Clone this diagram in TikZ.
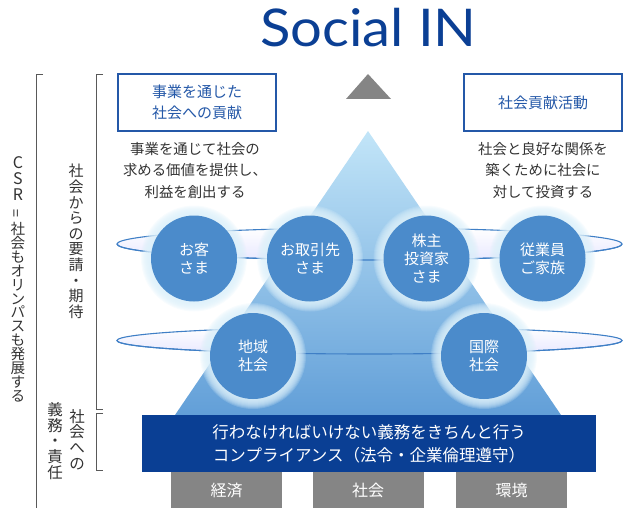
\documentclass[tikz,border=0pt]{standalone}
\usepackage{graphicx}
\usepackage{fontspec}
\setmainfont{Noto Sans CJK JP}
\newfontfamily\titlefont{Lato}
\definecolor{titleblue}{HTML}{0B3F94}
\definecolor{boxblue}{HTML}{2458A8}
\definecolor{navy}{HTML}{0A3F94}
\definecolor{ballblue}{HTML}{4B8BCB}
\definecolor{ringline}{HTML}{3F7FC6}
\definecolor{glowc}{HTML}{DCF0FA}
\definecolor{grayblock}{HTML}{858585}
\definecolor{txt}{HTML}{333333}
\definecolor{pyrtop}{HTML}{C2E5F8}
\definecolor{pyrbot}{HTML}{629FD8}
\tikzset{
  ball/.style={circle, fill=ballblue, minimum size=86pt, inner sep=0pt, text=white, align=center, font=\fontsize{15}{18}\selectfont},
  headbox/.style={draw=boxblue, line width=1.3pt, fill=white, minimum width=158pt, minimum height=57pt, inner sep=0pt, text=boxblue, align=center, font=\fontsize{15}{21}\selectfont},
  desc/.style={text=txt, align=center, font=\fontsize{14.4}{21.5}\selectfont},
  vtext/.style={text=txt, align=center, inner sep=0pt, anchor=north},
  bracket/.style={draw=black!65, line width=0.8pt},
  ring/.style={draw=ringline, line width=1.1pt},
  grayblk/.style={fill=grayblock, minimum width=111pt, minimum height=36pt, inner sep=0pt, text=white, font=\fontsize{16}{16}\selectfont},
}
\newcommand\myglow[1]{\foreach \rr in {44,45,...,53}{\fill[glowc, opacity=0.2] (#1) circle (\rr);}}
\begin{document}
\begin{tikzpicture}[x=1pt,y=-1pt]
\useasboundingbox (0,0) rectangle (623,508);
% title
\node[anchor=base, inner sep=0pt, text=titleblue, font=\titlefont\fontsize{52}{52}\selectfont, xscale=1.08] (title) at (368.5,47) {Social IN};
% brackets
\draw[bracket] (43,74) -- (36,74) -- (36,508);
\draw[bracket] (103,74) -- (96,74) -- (96,409) -- (103,409);
\draw[bracket] (103,413) -- (96,413) -- (96,470) -- (103,470);
% vertical texts
\node[vtext, font=\fontsize{14.6}{13.9}\selectfont] (csr) at (18,156) {{\fontsize{16}{16}\selectfont C}\\[2.4pt]{\fontsize{16}{16}\selectfont S}\\[2.4pt]{\fontsize{16}{16}\selectfont R}\\[3pt]\rotatebox{90}{=}\\[3pt]社\\会\\も\\オ\\リ\\ン\\パ\\ス\\も\\発\\展\\す\\る};
\node[vtext, font=\fontsize{15}{15.6}\selectfont] (req) at (76,164) {社\\会\\か\\ら\\の\\要\\請\\・\\期\\待};
\node[vtext, font=\fontsize{15.5}{15.6}\selectfont] (duty1) at (77,409) {社\\会\\へ\\の};
\node[vtext, font=\fontsize{15.5}{15.8}\selectfont] (duty2) at (55,402) {義\\務\\・\\責\\任};
% rings back
\shade[ring, top color=white, bottom color=blue!9!white] (369.5,244) ellipse [x radius=252.5, y radius=16];
\shade[ring, top color=white, bottom color=blue!9!white] (369.5,340.5) ellipse [x radius=252.5, y radius=13.5];
% pyramid
\shade[top color=pyrtop, bottom color=pyrbot] (368,131) -- (175,415) -- (561,415) -- cycle;
% rings front
\draw[ring] (117,244) arc[start angle=180, end angle=0, x radius=252.5, y radius=16];
\draw[ring] (117,340.5) arc[start angle=180, end angle=0, x radius=252.5, y radius=13.5];
% circles
\coordinate (p1) at (194,258.5);
\coordinate (p2) at (310,258.5);
\coordinate (p3) at (426.5,258.5);
\coordinate (p4) at (542.5,258.5);
\coordinate (p5) at (253,356);
\coordinate (p6) at (484,356);
\myglow{p1}\myglow{p2}\myglow{p3}\myglow{p4}\myglow{p5}\myglow{p6}
\node[ball] (b1) at (p1) {お客\\さま};
\node[ball] (b2) at (p2) {お取引先\\さま};
\node[ball] (b3) at (p3) {株主\\投資家\\さま};
\node[ball] (b4) at (p4) {従業員\\ご家族};
\node[ball] (b5) at (p5) {地域\\社会};
\node[ball] (b6) at (p6) {国際\\社会};
% top
\fill[grayblock] (368,74) -- (346,99) -- (391,99) -- cycle;
\node[headbox] (h1) at (197,102.5) {事業を通じた\\社会への貢献};
\node[headbox] (h2) at (543,102.5) {社会貢献活動};
\node[desc] (d1) at (195,170.5) {事業を通じて社会の\\求める価値を提供し、\\利益を創出する};
\node[desc] (d2) at (543,170.5) {社会と良好な関係を\\築くために社会に\\対して投資する};
% compliance
\node[fill=navy, minimum width=454pt, minimum height=57pt, inner sep=0pt, text=white, align=center, font=\fontsize{16.5}{23}\selectfont] (comp) at (369,443.5) {行わなければいけない義務をきちんと行う\\コンプライアンス（法令・企業倫理遵守）};
\node[grayblk] (g1) at (226.5,490) {経済};
\node[grayblk] (g2) at (368,490) {社会};
\node[grayblk] (g3) at (511.5,490) {環境};
\end{tikzpicture}
\end{document}
